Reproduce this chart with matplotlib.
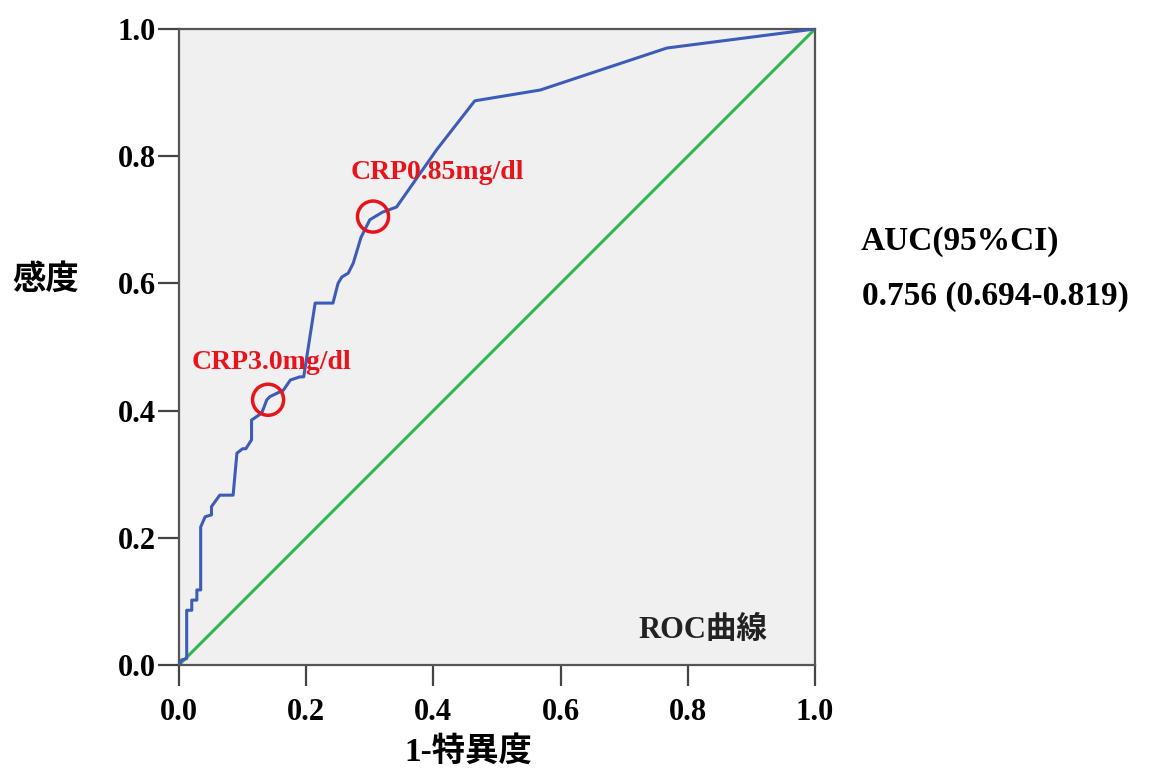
import matplotlib
matplotlib.use('Agg')
import matplotlib.pyplot as plt

# ROC curve points (1 - specificity, sensitivity)
fpr = [0.0, 0.004, 0.012, 0.012, 0.020, 0.020, 0.028, 0.028, 0.034, 0.034, 0.041,
       0.051, 0.051, 0.064, 0.070, 0.085, 0.091, 0.100, 0.105, 0.114, 0.114, 0.130,
       0.138, 0.143, 0.164, 0.175, 0.190, 0.196, 0.214, 0.242, 0.250, 0.256, 0.266,
       0.274, 0.286, 0.300, 0.320, 0.342, 0.405, 0.465, 0.568, 0.767, 1.0]
tpr = [0.0, 0.008, 0.010, 0.086, 0.086, 0.102, 0.102, 0.118, 0.118, 0.217, 0.233,
       0.236, 0.249, 0.267, 0.267, 0.267, 0.333, 0.340, 0.340, 0.354, 0.385, 0.396,
       0.417, 0.422, 0.432, 0.448, 0.453, 0.453, 0.569, 0.569, 0.600, 0.610, 0.616,
       0.632, 0.672, 0.700, 0.712, 0.720, 0.810, 0.887, 0.904, 0.970, 1.0]

ref_line = [0.0, 1.0]

# cut-off points marked on the curve
cut_x = [0.140, 0.305]
cut_y = [0.417, 0.705]
cut_labels = ['CRP3.0mg/dl', 'CRP0.85mg/dl']
label_x = [0.020, 0.270]
label_y = [0.476, 0.774]

ticks = [0.0, 0.2, 0.4, 0.6, 0.8, 1.0]

fonts = ['Liberation Serif', 'Noto Sans CJK JP']
plt.rcParams['font.family'] = fonts
plt.rcParams['font.weight'] = 'bold'

fig = plt.figure(figsize=(11.5, 7.7), dpi=100)
ax = fig.add_axes([0.1557, 0.1364, 0.553, 0.826])
ax.set_facecolor('#f0f0f0')

ax.plot(ref_line, ref_line, color='#2eb84c', lw=2.2, zorder=2)
ax.plot(fpr, tpr, color='#3d5cb8', lw=2.2, zorder=3)

ax.scatter(cut_x, cut_y, s=500, facecolors='none', edgecolors='#e8141c',
           linewidths=2.5, zorder=4)
for x, y, t in zip(label_x, label_y, cut_labels):
    ax.text(x, y, t, color='#e8141c', fontsize=20, fontweight='bold',
            ha='left', va='center', zorder=5)

ax.text(0.925, 0.055, 'ROC曲線', fontsize=22, fontweight='bold', ha='right',
        va='center', color='#222222')

ax.set_xlim(0, 1)
ax.set_ylim(0, 1)
ax.set_xticks(ticks)
ax.set_yticks(ticks)
ax.set_xticklabels([f'{t:.1f}' for t in ticks], fontsize=22, fontweight='bold')
ax.set_yticklabels([f'{t:.1f}' for t in ticks], fontsize=22, fontweight='bold')
ax.tick_params(direction='out', length=15, width=1.6, color='#444444')
ax.tick_params(axis='x', pad=9)
ax.tick_params(axis='y', pad=1.5)
for s in ax.spines.values():
    s.set_color('#555555')
    s.set_linewidth(1.6)

# axis titles placed where they sit in the picture
fig.text(0.407, 0.024, '1-特異度', fontsize=24, fontweight='bold', ha='center', va='center')
fig.text(0.040, 0.636, '感度', fontsize=24, fontweight='bold', ha='center', va='center')

fig.text(0.748, 0.686, 'AUC(95%CI)', fontsize=24, fontweight='bold', ha='left', va='center')
fig.text(0.750, 0.615, '0.756 (0.694-0.819)', fontsize=24, fontweight='bold',
         ha='left', va='center')

fig.savefig('out.png', dpi=100, facecolor='white')
